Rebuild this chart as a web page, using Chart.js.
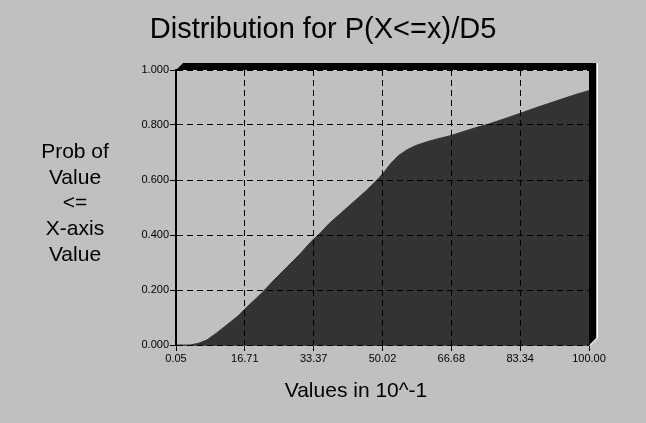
<!DOCTYPE html>
<html>
<head>
<meta charset="utf-8">
<title>Distribution for P(X<=x)/D5</title>
<script src="https://cdn.jsdelivr.net/npm/chart.js@4.4.0/dist/chart.umd.min.js"></script>
<style>
  html, body { margin: 0; padding: 0; background: #c0c0c0; }
  #wrap { width: 646px; height: 423px; }
</style>
</head>
<body>
<div id="wrap"><canvas id="cdf" width="646" height="423"></canvas></div>
<script>
// cumulative curve (x in 10^-1, prob)
const xValues = [0.05, 3.5, 5.5, 7.5, 10, 12.5, 15, 17, 19.5, 21.5, 24, 27, 30, 33, 34.5, 37, 40, 43, 46, 49,
  50.5, 52, 54, 56, 58, 61, 64, 66.7, 70, 73, 76, 80, 83.3, 87, 90, 94, 97, 100];
const probValues = [0, 0, 0.006, 0.018, 0.045, 0.075, 0.105, 0.135, 0.17, 0.2, 0.24, 0.285, 0.33, 0.38, 0.4, 0.44, 0.48, 0.52, 0.56, 0.605,
  0.63, 0.66, 0.69, 0.71, 0.725, 0.74, 0.752, 0.762, 0.778, 0.792, 0.805, 0.825, 0.842, 0.862, 0.877, 0.897, 0.912, 0.925];

const xTickValues = [0.05, 16.71, 33.37, 50.02, 66.68, 83.34, 100];
const xTickLabels = ['0.05', '16.71', '33.37', '50.02', '66.68', '83.34', '100.00'];
const yTickValues = [0, 0.2, 0.4, 0.6, 0.8, 1];

const chartTitle = 'Distribution for P(X<=x)/D5';
const xTitle = 'Values in 10^-1';
const yTitleLines = ['Prob of', 'Value', '<=', 'X-axis', 'Value'];

const FONT = '"Liberation Sans", Arial, sans-serif';

// axis titles: the y one is stacked horizontal lines, so draw both by hand
const axisTitles = {
  id: 'axisTitles',
  afterDraw(chart) {
    const { ctx, chartArea } = chart;
    ctx.save();
    ctx.fillStyle = '#000';
    ctx.font = '21px ' + FONT;
    ctx.textAlign = 'center';
    ctx.textBaseline = 'middle';
    ctx.fillText(xTitle, chartArea.left + 180, chartArea.bottom + 46);
    yTitleLines.forEach((line, i) => {
      ctx.fillText(line, 75, chartArea.top + 82 + i * 25.8);
    });
    ctx.restore();
  }
};

// the raised black frame on top and right of the plot
const frame3d = {
  id: 'frame3d',
  afterDraw(chart) {
    const { ctx } = chart;
    const { left, top, right, bottom } = chart.chartArea;
    const d = 7;
    ctx.save();
    ctx.fillStyle = '#000';
    ctx.beginPath();
    ctx.moveTo(left, top);
    ctx.lineTo(left + d, top - d);
    ctx.lineTo(right + d, top - d);
    ctx.lineTo(right + d, bottom - d);
    ctx.lineTo(right, bottom);
    ctx.lineTo(right, top);
    ctx.closePath();
    ctx.fill();
    ctx.strokeStyle = '#fff';
    ctx.lineWidth = 1;
    ctx.beginPath();
    ctx.moveTo(right + d + 1.5, top - d);
    ctx.lineTo(right + d + 1.5, bottom - d);
    ctx.lineTo(right + 0.5, bottom + 1);
    ctx.stroke();
    ctx.restore();
  }
};

// z: 1 puts the dashed grid on top of the filled area
const gridOpts = {
  color: '#000',
  lineWidth: 1,
  tickBorderDash: [],
  tickLength: 6,
  z: 1
};

new Chart(document.getElementById('cdf'), {
  type: 'line',
  data: {
    datasets: [{
      data: xValues.map((x, i) => ({ x: x, y: probValues[i] })),
      fill: 'origin',
      backgroundColor: '#333333',
      borderColor: '#333333',
      borderWidth: 1,
      pointRadius: 0,
      tension: 0
    }]
  },
  options: {
    responsive: false,
    animation: false,
    layout: { padding: 0 },
    plugins: {
      legend: { display: false },
      tooltip: { enabled: false },
      title: {
        display: true,
        text: chartTitle,
        color: '#000',
        font: { family: FONT, size: 29, weight: 'normal' },
        padding: { top: 13, bottom: 22.2 }
      }
    },
    scales: {
      x: {
        type: 'linear',
        min: 0.05,
        max: 100,
        afterFit: (s) => { s.height = 78; },
        afterBuildTicks: (s) => { s.ticks = xTickValues.map(v => ({ value: v })); },
        ticks: {
          autoSkip: false,
          maxRotation: 0,
          padding: 1,
          color: '#000',
          font: { family: FONT, size: 11 },
          callback: (v, i) => xTickLabels[i]
        },
        grid: gridOpts,
        // in v4 border.dash is what dashes the grid lines
        border: { display: true, color: '#555', width: 1, dash: [6, 4], z: 1 }
      },
      y: {
        type: 'linear',
        min: 0,
        max: 1,
        afterFit: (s) => { s.width = 176; },
        afterBuildTicks: (s) => { s.ticks = yTickValues.map(v => ({ value: v })); },
        ticks: {
          padding: 1,
          color: '#000',
          font: { family: FONT, size: 11 },
          callback: (v) => v.toFixed(3)
        },
        grid: gridOpts,
        border: { display: true, color: '#000', width: 2, dash: [6, 4], z: 1 }
      },
      // empty right axis only to keep the plot off the right edge
      yPad: {
        type: 'linear',
        position: 'right',
        afterFit: (s) => { s.width = 57; },
        ticks: { display: false },
        grid: { display: false, drawTicks: false },
        border: { display: false }
      }
    }
  },
  plugins: [axisTitles, frame3d]
});
</script>
</body>
</html>
